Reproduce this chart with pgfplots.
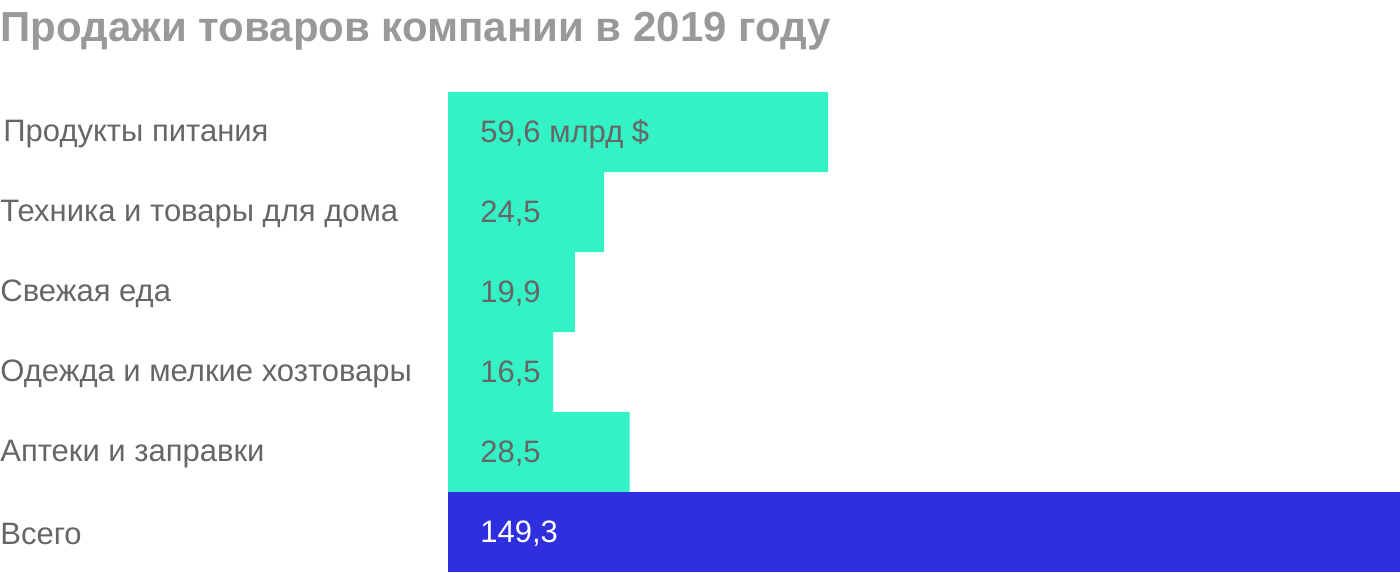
\documentclass[border=0pt]{standalone}
\usepackage{pgfplots}
\pgfplotsset{compat=1.18}
\usepackage{fontspec}
\setmainfont{Liberation Sans}
\definecolor{teal}{HTML}{33F2C5}
\definecolor{blue}{HTML}{2F2FE0}
\definecolor{labelgray}{HTML}{666666}
\definecolor{titlegray}{HTML}{999999}
\begin{document}
\begin{tikzpicture}
\useasboundingbox (0,0) rectangle (700pt,286pt);
\node[anchor=base west, inner sep=0pt, font=\bfseries\fontsize{21}{25}\selectfont, text=titlegray]
  at (0pt,265pt) {Продажи товаров компании в 2019 году};
\begin{axis}[
    at={(224pt,0pt)}, anchor=south west,
    scale only axis,
    width=476pt, height=240pt,
    xbar, bar width=40pt, bar shift=0pt,
    xmin=0, xmax=149.3,
    ymin=-0.5, ymax=5.5,
    y dir=reverse,
    axis line style={draw=none},
    major tick length=0pt,
    xtick=\empty,
    clip=false,
    ytick={0,1,2,3,4,5},
    yticklabels={\hspace{1.5pt}Продукты питания, Техника и товары для дома, Свежая еда, Одежда и мелкие хозтовары, Аптеки и заправки, Всего},
    yticklabel style={anchor=west, xshift=-224pt, yshift=-1pt, inner sep=0pt, font=\fontsize{15.5}{18}\selectfont, text=labelgray},
]
\addplot[fill=teal, draw=none] coordinates {(59.6,0) (24.5,1) (19.9,2) (16.5,3) (28.5,4)};
\addplot[fill=blue, draw=none] coordinates {(149.3,5)};
\addplot[draw=none, mark=none, xbar=0pt, bar width=0pt,
    nodes near coords, point meta=explicit symbolic,
    nodes near coords style={anchor=west, xshift=16pt, yshift=-1pt, inner sep=0pt, font=\fontsize{15.5}{18}\selectfont, text=labelgray}]
  coordinates {(0,0) [59,6 млрд \$] (0,1) [24,5] (0,2) [19,9] (0,3) [16,5] (0,4) [28,5]};
\addplot[draw=none, mark=none, xbar=0pt, bar width=0pt,
    nodes near coords, point meta=explicit symbolic,
    nodes near coords style={anchor=west, xshift=16pt, yshift=-1pt, inner sep=0pt, font=\fontsize{15.5}{18}\selectfont, text=white}]
  coordinates {(0,5) [149,3]};
\end{axis}
\end{tikzpicture}
\end{document}
